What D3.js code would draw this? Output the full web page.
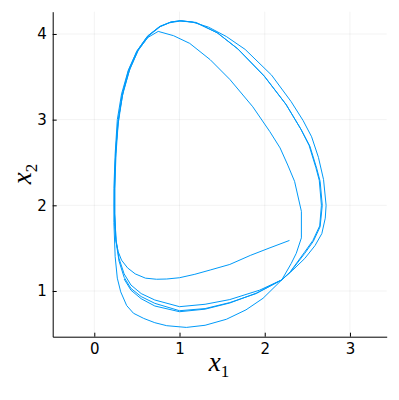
<!DOCTYPE html>
<html>
<head>
<meta charset="utf-8">
<script src="https://cdn.jsdelivr.net/npm/d3@7"></script>
<style>
  body { margin: 0; background: #fff; }
  .tick text { font-family: "DejaVu Sans", sans-serif; font-size: 15px; fill: #000; }
  .axis-label { font-family: "Liberation Serif", serif; font-style: italic; fill: #000; }
</style>
</head>
<body>
<script>
// trajectory, split into its passes
const x1Transient = [2.29, 2.05, 1.83, 1.59, 1.36, 1.18, 1.0, 0.85, 0.73, 0.6, 0.48, 0.39, 0.32, 0.28, 0.255, 0.24, 0.235, 0.24, 0.26, 0.29, 0.34, 0.42, 0.52, 0.63, 0.75];
const x2Transient = [1.59, 1.50, 1.415, 1.31, 1.245, 1.195, 1.155, 1.14, 1.137, 1.15, 1.20, 1.27, 1.36, 1.46, 1.58, 1.75, 2.0, 2.4, 2.75, 3.05, 3.33, 3.60, 3.82, 3.96, 4.03];

const x1Loop0 = [0.93, 1.12, 1.36, 1.59, 1.86, 2.06, 2.18, 2.27, 2.35, 2.43, 2.43, 2.37, 2.31, 2.2, 1.98, 1.78, 1.55, 1.30, 1.08, 0.85, 0.71, 0.58, 0.46, 0.38, 0.31, 0.27, 0.245, 0.23, 0.23, 0.245, 0.27, 0.32, 0.40, 0.50, 0.62, 0.76, 0.88, 1.0];
const x2Loop0 = [3.98, 3.89, 3.70, 3.47, 3.15, 2.86, 2.67, 2.47, 2.28, 1.93, 1.62, 1.44, 1.32, 1.13, 0.915, 0.78, 0.67, 0.60, 0.575, 0.595, 0.63, 0.68, 0.74, 0.83, 0.99, 1.15, 1.40, 1.8, 2.2, 2.6, 3.0, 3.3, 3.58, 3.80, 3.97, 4.08, 4.13, 4.15];

const x1Loop1 = [1.15, 1.34, 1.55, 1.77, 2.08, 2.31, 2.45, 2.55, 2.63, 2.69, 2.72, 2.71, 2.67, 2.59, 2.47, 2.33, 2.2, 1.94, 1.59, 1.30, 1.0, 0.71, 0.55, 0.43, 0.35, 0.29, 0.255, 0.24, 0.24, 0.255, 0.28, 0.33, 0.41, 0.51, 0.64, 0.78, 0.9, 1.02];
const x2Loop1 = [4.14, 4.08, 3.97, 3.82, 3.52, 3.21, 2.99, 2.80, 2.56, 2.30, 2.0, 1.85, 1.67, 1.53, 1.38, 1.245, 1.13, 1.01, 0.90, 0.845, 0.817, 0.895, 0.97, 1.07, 1.2, 1.38, 1.6, 1.9, 2.2, 2.6, 2.95, 3.28, 3.57, 3.80, 3.98, 4.09, 4.14, 4.155];

const x1Loop2 = [1.2, 1.45, 1.69, 2.0, 2.255, 2.43, 2.53, 2.61, 2.65, 2.675, 2.65, 2.57, 2.47, 2.3, 2.2, 1.9, 1.59, 1.3, 1.0, 0.71, 0.55, 0.43, 0.35, 0.29, 0.255, 0.24, 0.24, 0.25, 0.275, 0.325, 0.40, 0.50, 0.63, 0.77, 0.9, 1.01];
const x2Loop2 = [4.13, 4.01, 3.82, 3.50, 3.17, 2.88, 2.69, 2.43, 2.28, 2.0, 1.75, 1.58, 1.44, 1.22, 1.13, 0.97, 0.865, 0.795, 0.77, 0.856, 0.935, 1.03, 1.16, 1.35, 1.58, 1.9, 2.2, 2.6, 2.95, 3.28, 3.57, 3.80, 3.98, 4.09, 4.14, 4.155];

const x1Loop3 = [1.19, 1.44, 1.68, 1.99, 2.245, 2.42, 2.52, 2.60, 2.64, 2.665, 2.645, 2.565, 2.465, 2.3, 2.2, 1.9, 1.59, 1.3, 1.0, 0.71, 0.55, 0.43, 0.35];
const x2Loop3 = [4.135, 4.015, 3.83, 3.515, 3.185, 2.895, 2.70, 2.44, 2.29, 2.0, 1.76, 1.59, 1.45, 1.225, 1.13, 0.975, 0.86, 0.788, 0.758, 0.825, 0.91, 1.01, 1.14];

const xTicks = [0, 1, 2, 3];
const yTicks = [1, 2, 3, 4];

const x1 = [].concat(x1Transient, x1Loop0, x1Loop1, x1Loop2, x1Loop3);
const x2 = [].concat(x2Transient, x2Loop0, x2Loop1, x2Loop2, x2Loop3);
const points = x1.map((d, i) => [d, x2[i]]);

const width = 399, height = 400;
const margin = {left: 52.7, right: 12.3, top: 11.7, bottom: 63.3};
const blue = "#009af9";

const xScale = d3.scaleLinear()
    .domain([-0.488, 3.431])
    .range([margin.left, width - margin.right]);
const yScale = d3.scaleLinear()
    .domain([0.4666, 4.26])
    .range([height - margin.bottom, margin.top]);

const svg = d3.select("body").append("svg")
    .attr("width", width)
    .attr("height", height);

// grid
svg.append("g").selectAll("line")
    .data(xTicks).enter().append("line")
    .attr("x1", d => xScale(d)).attr("x2", d => xScale(d))
    .attr("y1", yScale.range()[0]).attr("y2", yScale.range()[1])
    .attr("stroke", "#000").attr("stroke-opacity", 0.1).attr("stroke-width", 0.5);
svg.append("g").selectAll("line")
    .data(yTicks).enter().append("line")
    .attr("y1", d => yScale(d)).attr("y2", d => yScale(d))
    .attr("x1", xScale.range()[0]).attr("x2", xScale.range()[1])
    .attr("stroke", "#000").attr("stroke-opacity", 0.1).attr("stroke-width", 0.5);

// trajectory
const line = d3.line()
    .x(d => xScale(d[0]))
    .y(d => yScale(d[1]));
svg.append("path")
    .datum(points)
    .attr("d", line)
    .attr("fill", "none")
    .attr("stroke", blue)
    .attr("stroke-width", 1)
    .attr("stroke-linejoin", "round");

// axes
svg.append("g")
    .attr("transform", "translate(0," + (height - margin.bottom) + ")")
    .call(d3.axisBottom(xScale).tickValues(xTicks).tickFormat(d3.format("d"))
        .tickSizeInner(-4).tickSizeOuter(0).tickPadding(7));
svg.append("g")
    .attr("transform", "translate(" + margin.left + ",0)")
    .call(d3.axisLeft(yScale).tickValues(yTicks).tickFormat(d3.format("d"))
        .tickSizeInner(-4).tickSizeOuter(0).tickPadding(6));
svg.selectAll(".domain").attr("stroke", "#000").attr("stroke-width", 1);
svg.selectAll(".tick line").attr("stroke", "#000");

// axis labels
const xLabel = svg.append("text")
    .attr("class", "axis-label")
    .attr("x", 219)
    .attr("y", 371)
    .attr("text-anchor", "middle")
    .style("font-size", "27px");
xLabel.append("tspan").text("x");
xLabel.append("tspan").text("1").attr("dy", 6).style("font-size", "17px").style("font-style", "normal");

const yLabel = svg.append("text")
    .attr("class", "axis-label")
    .attr("transform", "translate(31,174) rotate(-90)")
    .attr("text-anchor", "middle")
    .style("font-size", "27px");
yLabel.append("tspan").text("x");
yLabel.append("tspan").text("2").attr("dy", 6).style("font-size", "17px").style("font-style", "normal");
</script>
</body>
</html>
